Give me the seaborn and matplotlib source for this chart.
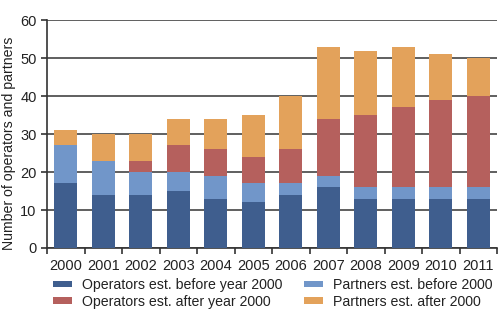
import matplotlib
matplotlib.use("Agg")
import matplotlib.pyplot as plt
import seaborn as sns
import numpy as np
import pandas as pd
from matplotlib.patches import Patch

years = ["2000", "2001", "2002", "2003", "2004", "2005", "2006", "2007", "2008", "2009", "2010", "2011"]
operators_before = [17, 14, 14, 15, 13, 12, 14, 16, 13, 13, 13, 13]
partners_before = [10, 9, 6, 5, 6, 5, 3, 3, 3, 3, 3, 3]
operators_after = [0, 0, 3, 7, 7, 7, 9, 15, 19, 21, 23, 24]
partners_after = [4, 7, 7, 7, 8, 11, 14, 19, 17, 16, 12, 10]

series_names = ["Operators est. before year 2000", "Partners est. before 2000",
                "Operators est. after year 2000", "Partners est. after 2000"]
colors = ["#3F5E8E", "#7196C9", "#B5605D", "#E3A25B"]

sns.set_theme(style="white")
plt.rcParams['font.family'] = ['Liberation Sans', 'DejaVu Sans']

fig = plt.figure(figsize=(5, 3.25), dpi=100)
ax = fig.add_axes([0.094, 0.237, 0.90, 0.701])

series = [operators_before, partners_before, operators_after, partners_after]
bottom = np.zeros(len(years))
for vals, name, col in zip(series, series_names, colors):
    df = pd.DataFrame({"year": years, "value": vals})
    sns.barplot(data=df, x="year", y="value", color=col, bottom=bottom, width=0.62,
                ax=ax, saturation=1, edgecolor="none", linewidth=0, zorder=3)
    bottom = bottom + np.array(vals)

ax.set_ylim(0, 60)
ax.set_xlim(-0.5, len(years) - 0.5)
ax.set_yticks(range(0, 61, 10))
ax.yaxis.grid(True, color="#444444", linewidth=1.2, zorder=0)
ax.set_axisbelow(True)
ax.set_xlabel("")
ax.set_ylabel("")
fig.text(9 / 500, 1 - 143 / 325, "Number of operators and partners", rotation=90,
         ha="center", va="center", fontsize=10.2, color="#222222")

for s in ["top", "right"]:
    ax.spines[s].set_visible(False)
for s in ["left", "bottom"]:
    ax.spines[s].set_color("#333333")
    ax.spines[s].set_linewidth(1.2)

ax.set_xticks(range(len(years)))
ax.set_xticklabels(years)
ax.set_xticks(np.arange(-0.5, len(years), 1), minor=True)
ax.tick_params(axis="x", which="major", length=0, labelsize=10.5, pad=8, colors="#222222")
ax.tick_params(axis="x", which="minor", length=4, width=1.2, color="#333333", direction="out", bottom=True)
ax.tick_params(axis="y", length=4, width=1.2, color="#333333", direction="out", left=True, labelsize=10.5, labelcolor="#222222")

handles = [Patch(facecolor=c, edgecolor="none") for c in colors]
order = [0, 2, 1, 3]
fig.legend([handles[i] for i in order], [series_names[i] for i in order],
           ncol=2, loc="upper left", bbox_to_anchor=(53 / 500, 1 - 278 / 325), frameon=False,
           borderaxespad=0, borderpad=0,
           fontsize=10.2, handlelength=1.35, handleheight=0.35, columnspacing=1.5,
           labelspacing=0.2, handletextpad=0.7, labelcolor="#222222")

fig.savefig("out.png", dpi=100)
